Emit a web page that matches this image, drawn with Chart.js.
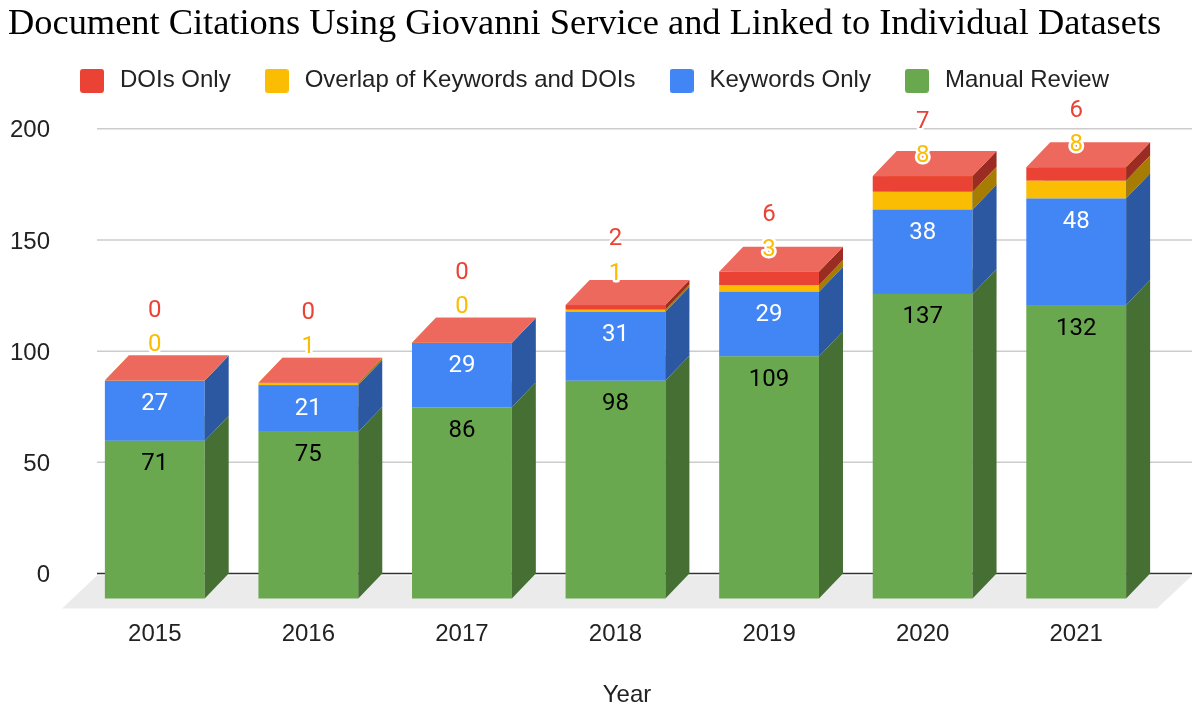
<!DOCTYPE html>
<html lang="en">
<head>
<meta charset="UTF-8">
<title>Document Citations Using Giovanni Service</title>
<style>
* {
    margin: 0;
    padding: 0;
    box-sizing: border-box;
}
body {
    background: #fff;
}
</style>
</head>
<body>
<canvas id="citationsChart" width="1200" height="710"></canvas>
<script src="https://cdn.jsdelivr.net/npm/chart.js@4.4.0/dist/chart.umd.min.js"></script>
<script>
// values
var years = ['2015', '2016', '2017', '2018', '2019', '2020', '2021'];
var manualReview = [71, 75, 86, 98, 109, 137, 132];
var keywordsOnly = [27, 21, 29, 31, 29, 38, 48];
var overlapKeywordsDois = [0, 1, 0, 1, 3, 8, 8];
var doisOnly = [0, 0, 0, 2, 6, 7, 6];
var yTicks = [0, 50, 100, 150, 200];

// depth of the fake 3D boxes (front face sits down-left of the grid plane)
var DX = 24, DY = 25;

function swatch(color) {
    var c = document.createElement('canvas');
    c.width = 24;
    c.height = 24;
    var g = c.getContext('2d');
    g.fillStyle = color;
    g.beginPath();
    if (g.roundRect) g.roundRect(0, 0, 24, 24, 3); else g.rect(0, 0, 24, 24);
    g.fill();
    return c;
}

function poly(ctx, color, pts) {
    ctx.fillStyle = color;
    ctx.beginPath();
    ctx.moveTo(pts[0], pts[1]);
    for (var i = 2; i < pts.length; i += 2) ctx.lineTo(pts[i], pts[i + 1]);
    ctx.closePath();
    ctx.fill();
}

function label(ctx, text, x, y, color, halo) {
    if (halo) {
        ctx.strokeStyle = '#fff';
        ctx.lineWidth = 5;
        ctx.lineJoin = 'round';
        ctx.strokeText(text, x, y);
    }
    ctx.fillStyle = color;
    ctx.fillText(text, x, y);
}

var box3d = {
    id: 'box3d',
    beforeDatasetsDraw: function(chart) {
        var ctx = chart.ctx, area = chart.chartArea, ys = chart.scales.y;
        var x0 = area.left - 5, x1 = area.right + 15;
        var zero = ys.getPixelForValue(0);
        ctx.save();
        // grid lines on the back wall
        ctx.strokeStyle = '#cccccc';
        ctx.lineWidth = 1.5;
        ys.ticks.forEach(function(t) {
            if (t.value === 0) return;
            var py = ys.getPixelForValue(t.value);
            ctx.beginPath();
            ctx.moveTo(x0, py);
            ctx.lineTo(x1, py);
            ctx.stroke();
        });
        // floor
        poly(ctx, '#ebebeb', [x0, zero + 2, x1, zero + 2, x1 - 35, zero + 35, x0 - 35, zero + 35]);
        ctx.strokeStyle = '#333';
        ctx.lineWidth = 1.5;
        ctx.beginPath();
        ctx.moveTo(x0, zero);
        ctx.lineTo(x1, zero);
        ctx.stroke();
        // boxes, bottom dataset first so upper ones cover the lower tops
        chart.data.datasets.forEach(function(ds, i) {
            chart.getDatasetMeta(i).data.forEach(function(bar) {
                var l = bar.x - bar.width / 2 - DX, r = l + bar.width;
                var t = Math.min(bar.y, bar.base) + DY, b = Math.max(bar.y, bar.base) + DY;
                ctx.fillStyle = ds.backgroundColor;
                ctx.fillRect(l, t, r - l, b - t);
                poly(ctx, ds.sideColor, [r, b, r + DX, b - DY, r + DX, t - DY, r, t]);
                poly(ctx, ds.topColor, [l, t, l + DX, t - DY, r + DX, t - DY, r, t]);
            });
        });
        ctx.restore();
        return false;
    },
    afterDraw: function(chart) {
        var ctx = chart.ctx, area = chart.chartArea, ys = chart.scales.y;
        var zero = ys.getPixelForValue(0);
        ctx.save();
        ctx.font = '24px Roboto';
        ctx.textAlign = 'center';
        ctx.textBaseline = 'middle';
        var green = chart.getDatasetMeta(0).data, blue = chart.getDatasetMeta(1).data;
        var yellow = chart.getDatasetMeta(2).data;
        years.forEach(function(yr, j) {
            var cx = green[j].x - DX;
            label(ctx, String(manualReview[j]), cx, green[j].y + DY + 23.5, '#000', false);
            label(ctx, String(keywordsOnly[j]), cx, blue[j].y + DY + 23.5, '#fff', false);
            var yy = yellow[j].y + DY - 35.5;
            label(ctx, String(overlapKeywordsDois[j]), cx, yy, '#fbbc04', true);
            label(ctx, String(doisOnly[j]), cx, yy - 34.5, '#ea4335', true);
        });
        // axis title, centred under the floor
        ctx.font = '24px "Liberation Sans", Arial, sans-serif';
        label(ctx, 'Year', (area.left - 40 + area.right + 15) / 2, zero + 121.5, '#222', false);
        ctx.restore();
    }
};

var ctx = document.getElementById('citationsChart').getContext('2d');
var citationsChart = new Chart(ctx, {
    type: 'bar',
    data: {
        labels: years,
        datasets: [{
            label: 'Manual Review',
            data: manualReview,
            backgroundColor: '#6aa84f',
            sideColor: '#466f34',
            topColor: '#8fbf7a'
        }, {
            label: 'Keywords Only',
            data: keywordsOnly,
            backgroundColor: '#4285f4',
            sideColor: '#2c58a1',
            topColor: '#6a9ef6'
        }, {
            label: 'Overlap of Keywords and DOIs',
            data: overlapKeywordsDois,
            backgroundColor: '#fbbc04',
            sideColor: '#a67c03',
            topColor: '#fcc936'
        }, {
            label: 'DOIs Only',
            data: doisOnly,
            backgroundColor: '#ea4335',
            sideColor: '#9a2c23',
            topColor: '#ee695d'
        }]
    },
    options: {
        responsive: false,
        animation: false,
        layout: {
            padding: { left: 8, right: 23, top: 0, bottom: 0 }
        },
        datasets: {
            bar: { categoryPercentage: 0.65, barPercentage: 1, borderWidth: 0 }
        },
        plugins: {
            title: {
                display: true,
                text: 'Document Citations Using Giovanni Service and Linked to Individual Datasets',
                align: 'start',
                color: '#000',
                font: { family: '"Liberation Serif", "Times New Roman", serif', size: 36.4, weight: 'normal', lineHeight: 0.6 },
                padding: { top: 14, bottom: 3 }
            },
            legend: {
                reverse: true,
                labels: {
                    usePointStyle: true,
                    pointStyleWidth: 32,
                    boxHeight: 24,
                    padding: 30,
                    color: '#222',
                    font: { family: '"Liberation Sans", Arial, sans-serif', size: 24 },
                    generateLabels: function(chart) {
                        var items = Chart.defaults.plugins.legend.labels.generateLabels(chart);
                        items.forEach(function(it) { it.pointStyle = swatch(it.fillStyle); });
                        return items;
                    }
                }
            },
            tooltip: { enabled: false }
        },
        scales: {
            x: {
                stacked: true,
                grid: { display: false },
                border: { display: false },
                ticks: {
                    color: '#222',
                    padding: 38,
                    labelOffset: -DX,
                    font: { family: '"Liberation Sans", Arial, sans-serif', size: 24 }
                },
                afterFit: function(s) { s.height = 136.5; }
            },
            y: {
                stacked: true,
                min: 0,
                max: 211.7,
                grid: { display: false, drawTicks: false },
                border: { display: false },
                ticks: {
                    color: '#222',
                    padding: 52,
                    labelOffset: 2,
                    font: { family: '"Liberation Sans", Arial, sans-serif', size: 24 }
                },
                afterBuildTicks: function(s) {
                    s.ticks = yTicks.map(function(v) { return { value: v }; });
                },
                afterFit: function(s) { s.width = 94; }
            }
        }
    },
    plugins: [box3d]
});
</script>
</body>
</html>
